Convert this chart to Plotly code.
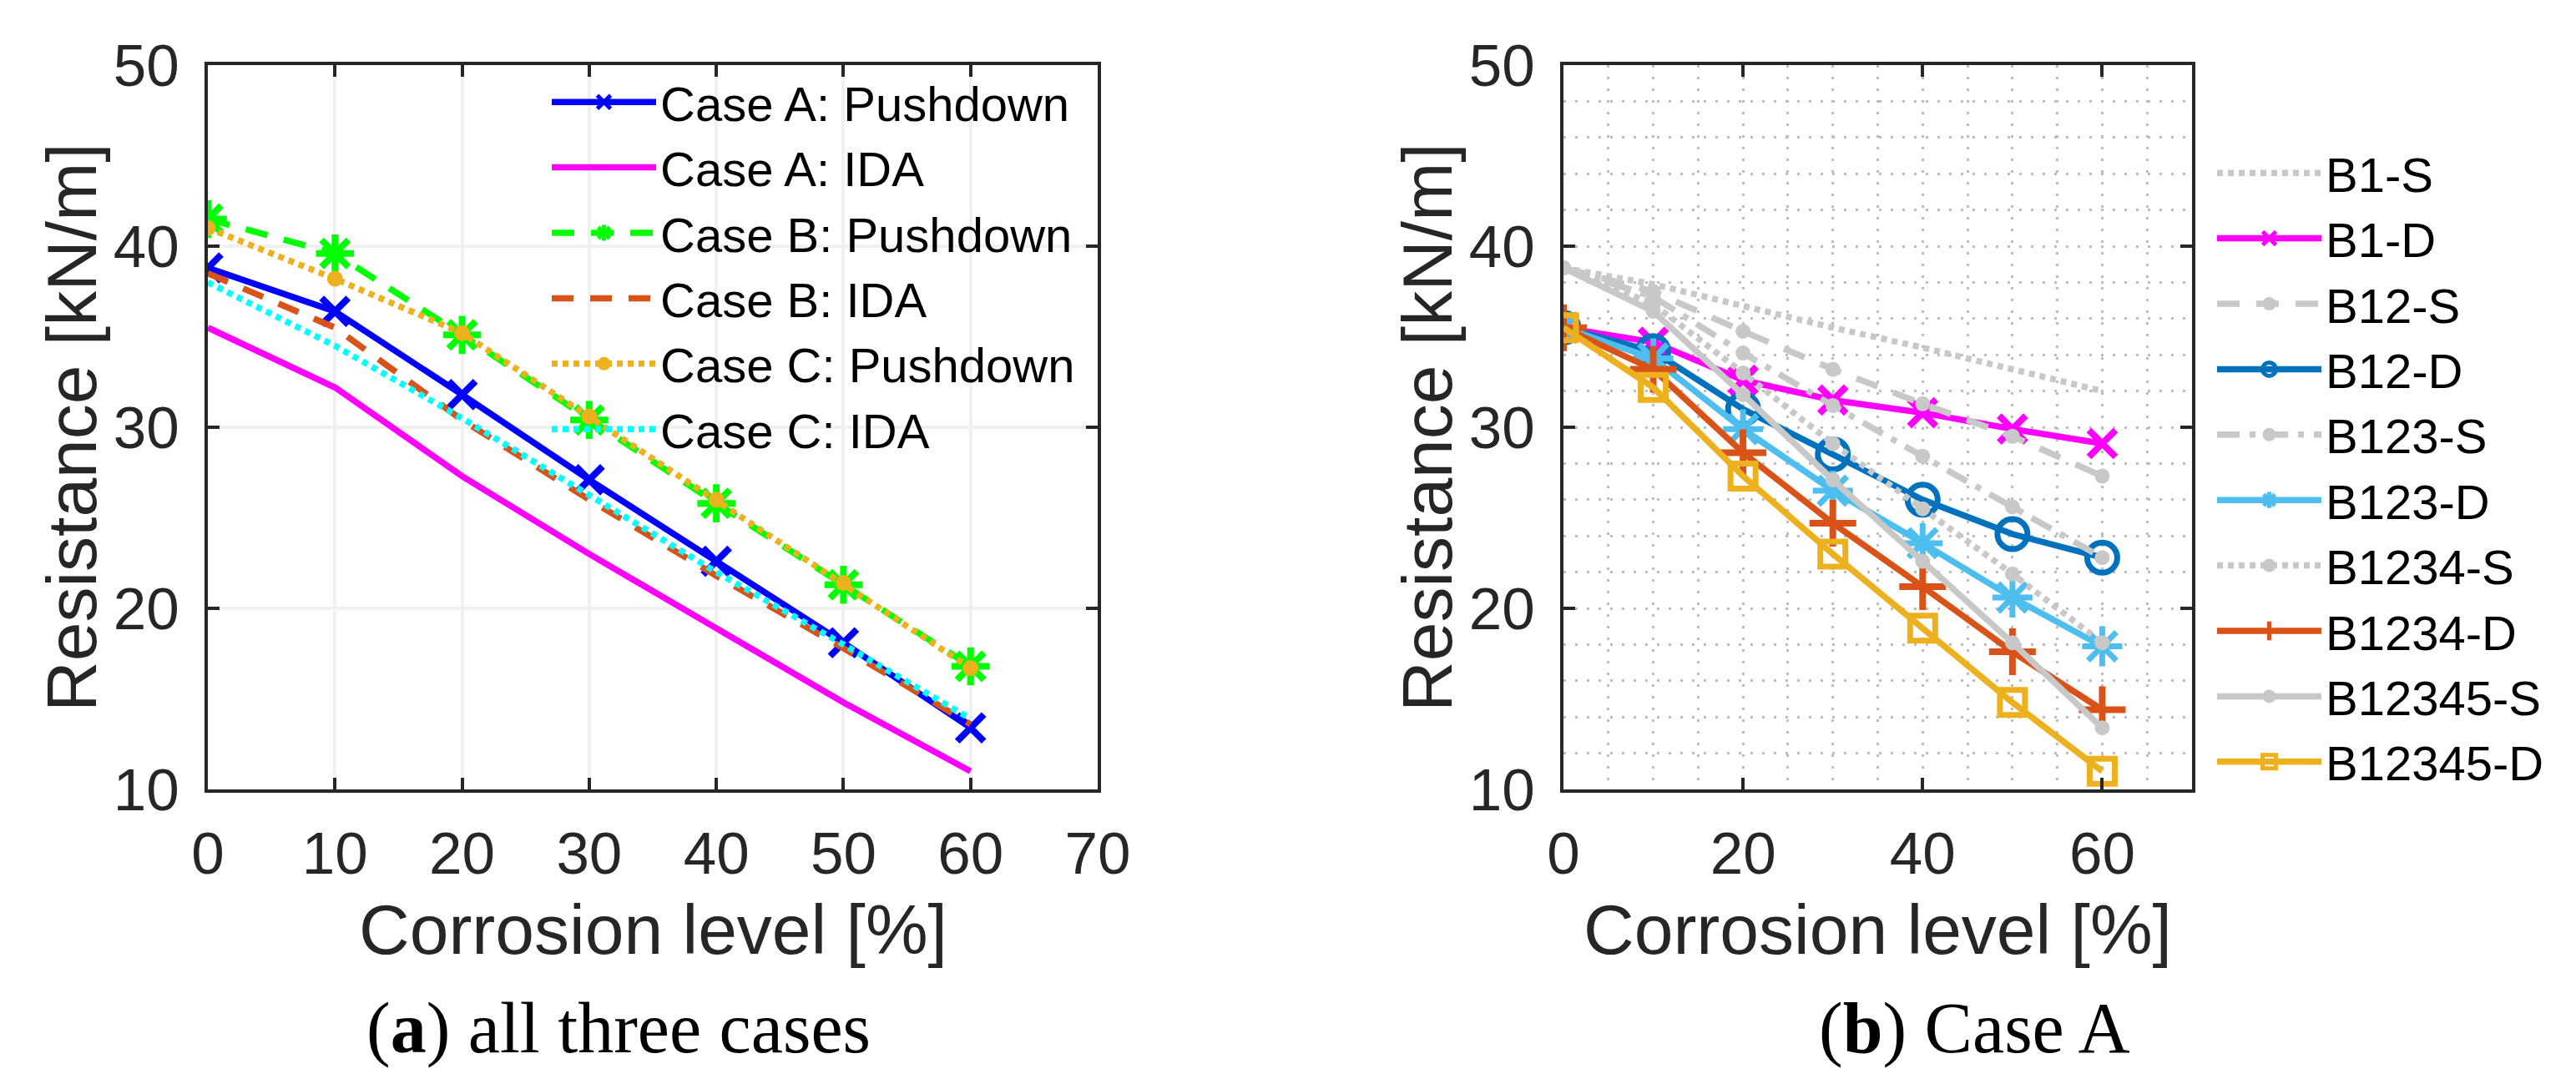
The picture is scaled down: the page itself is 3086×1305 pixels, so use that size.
import plotly.graph_objects as go

# ---------------- data ----------------
corrosion = [0, 10, 20, 30, 40, 50, 60]

# panel (a): all three cases
caseA_push = [38.8, 36.4, 31.8, 27.1, 22.6, 18.1, 13.4]
caseA_ida = [35.5, 32.2, 27.3, 23.0, 18.9, 14.8, 11.0]
caseB_push = [41.5, 39.6, 35.1, 30.4, 25.8, 21.3, 16.8]
caseB_ida = [38.5, 35.5, 30.4, 26.0, 21.8, 17.8, 13.6]
caseC_push = [41.0, 38.2, 35.2, 30.6, 26.0, 21.4, 16.7]
caseC_ida = [38.0, 34.5, 30.5, 26.2, 22.0, 18.0, 13.9]

# panel (b): Case A
B1_S = [38.8, 37.9, 36.7, 35.5, 34.4, 33.2, 32.0]
B1_D = [35.5, 34.7, 32.6, 31.5, 30.8, 29.9, 29.1]
B12_S = [38.8, 37.5, 35.3, 33.2, 31.3, 29.5, 27.3]
B12_D = [35.5, 34.2, 31.0, 28.5, 26.0, 24.1, 22.8]
B123_S = [38.8, 37.2, 34.1, 31.2, 28.4, 25.6, 22.8]
B123_D = [35.5, 33.8, 29.9, 26.5, 23.6, 20.6, 17.9]
B1234_S = [38.8, 36.8, 33.0, 29.1, 25.5, 21.9, 18.1]
B1234_D = [35.5, 33.2, 28.6, 24.7, 21.2, 17.6, 14.4]
B12345_S = [38.8, 36.4, 31.8, 27.1, 22.6, 18.1, 13.4]
B12345_D = [35.5, 32.2, 27.3, 23.0, 18.9, 14.8, 11.0]

x_ticks_a = [0, 10, 20, 30, 40, 50, 60, 70]
x_ticks_b = [0, 20, 40, 60]
y_ticks = [10, 20, 30, 40, 50]

# ---------------- figure ----------------
W, H = 3086, 1305
SANS = "Liberation Sans"
SERIF = "Liberation Serif"
AX = "#262626"
GRAY = "#c8c8c8"
LW = 7.5

fig = go.Figure()

def add(y, name, color, dash, width, xa, ya, leg, symbol=None, msize=0,
        mlw=0, mfill=None):
    mode = "lines+markers" if symbol else "lines"
    marker = None
    if symbol:
        marker = dict(symbol=symbol, size=msize,
                      color=mfill if mfill else color,
                      line=dict(color=color, width=mlw))
    fig.add_trace(go.Scatter(
        x=corrosion, y=y, name=name, mode=mode,
        line=dict(color=color, dash=dash, width=width),
        marker=marker, xaxis=xa, yaxis=ya, legend=leg))

# panel (a)
add(caseA_push, "Case A: Pushdown", "#0000ff", "solid", LW, "x", "y", "legend",
    "x-thin", 32, 8)
add(caseA_ida, "Case A: IDA", "#ff00ff", "solid", LW, "x", "y", "legend")
add(caseB_push, "Case B: Pushdown", "#00ff00", "27px,20px", LW, "x", "y", "legend",
    "asterisk", 38, 8)
add(caseB_ida, "Case B: IDA", "#d95319", "26px,20px", LW, "x", "y", "legend")
add(caseC_push, "Case C: Pushdown", "#edb120", "7px,6px", LW, "x", "y", "legend",
    "circle", 19, 0)
add(caseC_ida, "Case C: IDA", "#00ffff", "7px,6px", LW, "x", "y", "legend")

# panel (b)
add(B1_S, "B1-S", GRAY, "7px,6px", LW, "x2", "y2", "legend2")
add(B1_D, "B1-D", "#ff00ff", "solid", LW, "x2", "y2", "legend2",
    "x-thin", 32, 8)
add(B12_S, "B12-S", GRAY, "27px,20px", LW, "x2", "y2", "legend2",
    "circle", 18, 0)
add(B12_D, "B12-D", "#0072bd", "solid", LW, "x2", "y2", "legend2",
    "circle-open", 36, 7)
add(B123_S, "B123-S", GRAY, "27px,12px,7px,12px", LW, "x2", "y2", "legend2",
    "circle", 18, 0)
add(B123_D, "B123-D", "#4dbeee", "solid", LW, "x2", "y2", "legend2",
    "asterisk", 40, 7)
add(B1234_S, "B1234-S", GRAY, "7px,6px", LW, "x2", "y2", "legend2",
    "circle", 18, 0)
add(B1234_D, "B1234-D", "#d95319", "solid", LW, "x2", "y2", "legend2",
    "cross-thin", 40, 8)
add(B12345_S, "B12345-S", GRAY, "solid", LW, "x2", "y2", "legend2",
    "circle", 18, 0)
add(B12345_D, "B12345-D", "#edb120", "solid", LW, "x2", "y2", "legend2",
    "square-open", 30, 7)

# plot areas (pixel -> paper)
def px(v):
    return v / W

def py(v):
    return (H - v) / H

top, bot = 70, 938
ax_common = dict(
    showline=True, linecolor=AX, linewidth=4, mirror="ticks",
    ticks="inside", ticklen=14, tickwidth=4, tickcolor=AX,
    tickfont=dict(family=SANS, size=71, color=AX),
    zeroline=False, automargin=False,
)
GRID_B = dict(showgrid=True, gridcolor="#bdbdbd", gridwidth=3,
              griddash="3px,11px")

fig.update_layout(
    width=W, height=H,
    paper_bgcolor="white", plot_bgcolor="white",
    margin=dict(l=0, r=0, t=0, b=0, autoexpand=False),
    showlegend=True,
    xaxis=dict(domain=[px(241), px(1307)], range=[0, 70],
               tickvals=x_ticks_a, ticklabelstandoff=12,
               showgrid=True, gridcolor="#f0f0f0", gridwidth=4,
               anchor="y", **ax_common),
    yaxis=dict(domain=[py(bot), py(top)], range=[10, 50],
               tickvals=y_ticks, ticklabelstandoff=16,
               showgrid=True, gridcolor="#f0f0f0", gridwidth=4,
               anchor="x", **ax_common),
    xaxis2=dict(domain=[px(1865), px(2618)], range=[0, 70],
                tickvals=x_ticks_b, ticklabelstandoff=12,
                minor=dict(dtick=5, tick0=0, ticks="", **GRID_B),
                anchor="y2", **GRID_B, **ax_common),
    yaxis2=dict(domain=[py(bot), py(top)], range=[10, 50],
                tickvals=y_ticks, ticklabelstandoff=16,
                minor=dict(dtick=2, tick0=0, ticks="", **GRID_B),
                anchor="x2", **GRID_B, **ax_common),
    legend=dict(x=px(648), y=py(70), xanchor="left", yanchor="top",
                bgcolor="rgba(0,0,0,0)", borderwidth=0,
                font=dict(family=SANS, size=58, color="black"),
                itemwidth=125, tracegroupgap=0),
    legend2=dict(x=px(2643), y=py(155), xanchor="left", yanchor="top",
                 bgcolor="rgba(0,0,0,0)", borderwidth=0,
                 font=dict(family=SANS, size=58, color="black"),
                 itemwidth=125, tracegroupgap=0),
)

ann = []
# axis titles
for cx in (774, 2241):
    ann.append(dict(text="Corrosion level [%]", x=px(cx), y=py(1106),
                    xref="paper", yref="paper", showarrow=False,
                    xanchor="center", yanchor="middle",
                    font=dict(family=SANS, size=84, color=AX)))
for cx in (78, 1702):
    ann.append(dict(text="Resistance [kN/m]", x=px(cx), y=py(504),
                    xref="paper", yref="paper", showarrow=False,
                    xanchor="center", yanchor="middle", textangle=-90,
                    font=dict(family=SANS, size=84, color=AX)))
# captions
ann.append(dict(text="(<b>a</b>) all three cases", x=px(733), y=py(1224),
                xref="paper", yref="paper", showarrow=False,
                xanchor="center", yanchor="middle",
                font=dict(family=SERIF, size=86, color="black")))
ann.append(dict(text="(<b>b</b>) Case A", x=px(2357), y=py(1224),
                xref="paper", yref="paper", showarrow=False,
                xanchor="center", yanchor="middle",
                font=dict(family=SERIF, size=86, color="black")))
fig.update_layout(annotations=ann)

fig.write_html("out.html")
